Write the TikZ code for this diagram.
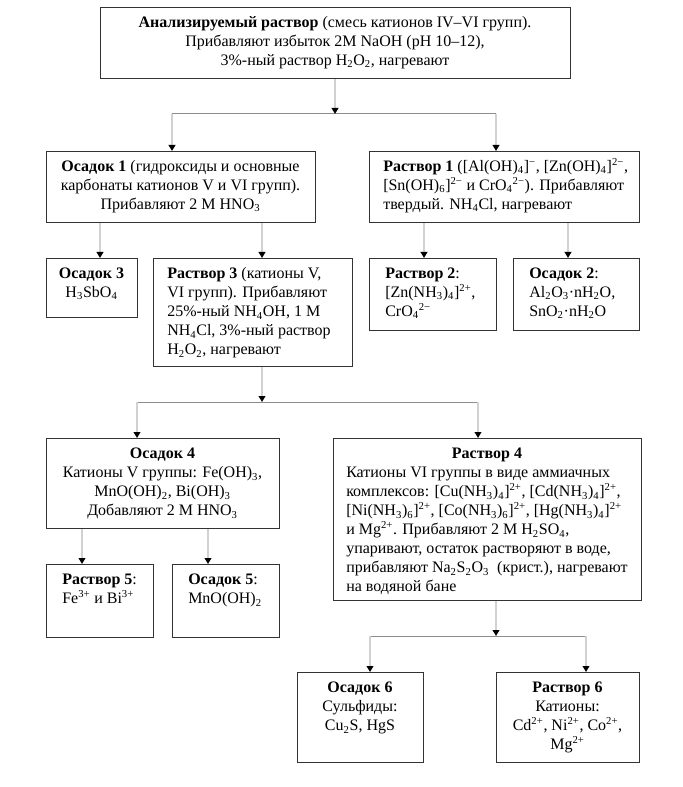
\documentclass[tikz,border=0pt]{standalone}
\usepackage{fontspec}
\setmainfont{Liberation Serif}
\usetikzlibrary{arrows.meta}
\newcommand\fl{\rule{0pt}{10pt}}
\newcommand\sbs[1]{\textsubscript{#1}}
\newcommand\sps[1]{\textsuperscript{#1}}
\newcommand\myfont{\fontsize{12pt}{14.25pt}\selectfont}
\begin{document}
\lineskiplimit=-30pt
\lineskip=0pt
\begin{tikzpicture}[x=0.75pt,y=-0.75pt,
  box/.style={draw=black!80, line width=0.8pt, inner sep=0pt, anchor=north west},
  txtc/.style={inner sep=0pt, anchor=north, align=center, font=\myfont},
  txtl/.style={inner sep=0pt, anchor=north west, align=left, font=\myfont},
  vline/.style={draw=black!18, line width=1.5pt, -{Triangle[color=black, width=5pt, length=4.5pt]}},
  hline/.style={draw=black!45, line width=0.75pt}]
\useasboundingbox[fill=white] (0,0) rectangle (682,787);
\newcommand\mybox[5]{\node[box, minimum width=#4*0.75pt, minimum height=#5*0.75pt] (#1) at (#2,#3) {};}
% boxes
\mybox{top}{100}{7}{470}{71}
\mybox{o1}{46}{151}{269}{71}
\mybox{r1}{369}{151}{270}{71}
\mybox{o3}{46}{258}{91}{59}
\mybox{r3}{153}{258}{199}{108}
\mybox{r2}{369}{258}{127}{72}
\mybox{o2}{513}{258}{126}{72}
\mybox{o4}{46}{438}{233}{90}
\mybox{r4}{333}{438}{308}{162}
\mybox{r5}{46}{564}{107}{73}
\mybox{o5}{172}{564}{107}{73}
\mybox{o6}{297}{672}{126}{90}
\mybox{r6}{496}{672}{143}{90}
% texts
\node[txtc] (ttop) at (335,14) {\fl\textbf{Анализируемый раствор} (смесь катионов IV–VI групп).\\ Прибавляют избыток 2M NaOH (pH 10–12),\\ 3\%-ный раствор H\sbs{2}O\sbs{2}, нагревают};
\node[txtc] (to1) at (180.5,158) {\fl\textbf{Осадок 1} (гидроксиды и основные\\ карбонаты катионов V и VI групп).\\ Прибавляют 2 M HNO\sbs{3}};
\node[txtl] (tr1) at (383,158) {\fl\textbf{Раствор 1} ([Al(OH)\sbs{4}]\sps{−}, [Zn(OH)\sbs{4}]\sps{2−},\\{}[Sn(OH)\sbs{6}]\sps{2−} и CrO\sbs{4}\sps{2−}). Прибавляют\\ твердый. NH\sbs{4}Cl, нагревают};
\node[txtc] (to3) at (91.5,265) {\fl\textbf{Осадок 3}\\ H\sbs{3}SbO\sbs{4}};
\node[txtl] (tr3) at (167,265) {\fl\textbf{Раствор 3} (катионы V,\\ VI групп). Прибавляют\\ 25\%-ный NH\sbs{4}OH, 1 M\\ NH\sbs{4}Cl, 3\%-ный раствор\\ H\sbs{2}O\sbs{2}, нагревают};
\node[txtl] (tr2) at (385,265) {\fl\textbf{Раствор 2}:\\{}[Zn(NH\sbs{3})\sbs{4}]\sps{2+},\\ CrO\sbs{4}\sps{2−}};
\node[txtl] (to2) at (529,265) {\fl\textbf{Осадок 2}:\\ Al\sbs{2}O\sbs{3}·nH\sbs{2}O,\\ SnO\sbs{2}·nH\sbs{2}O};
\node[txtc] (to4) at (162.5,445) {\fl\textbf{Осадок 4}\\ Катионы V группы: Fe(OH)\sbs{3},\\ MnO(OH)\sbs{2}, Bi(OH)\sbs{3}\\ Добавляют 2 M HNO\sbs{3}};
\node[txtc] (tr4h) at (487,445) {\fl\textbf{Раствор 4}};
\node[txtl] (tr4) at (346,464) {\fl Катионы VI группы в виде аммиачных\\ комплексов: [Cu(NH\sbs{3})\sbs{4}]\sps{2+}, [Cd(NH\sbs{3})\sbs{4}]\sps{2+},\\{}[Ni(NH\sbs{3})\sbs{6}]\sps{2+}, [Co(NH\sbs{3})\sbs{6}]\sps{2+}, [Hg(NH\sbs{3})\sbs{4}]\sps{2+}\\ и Mg\sps{2+}. Прибавляют 2 M H\sbs{2}SO\sbs{4},\\ упаривают, остаток растворяют в воде,\\ прибавляют Na\sbs{2}S\sbs{2}O\sbs{3}\ \ (крист.), нагревают\\ на водяной бане};
\node[txtl] (tr5) at (62,571) {\fl\textbf{Раствор 5}:\\ Fe\sps{3+} и Bi\sps{3+}};
\node[txtl] (to5) at (188,571) {\fl\textbf{Осадок 5}:\\ MnO(OH)\sbs{2}};
\node[txtc] (to6) at (360,679) {\fl\textbf{Осадок 6}\\ Сульфиды:\\ Cu\sbs{2}S, HgS};
\node[txtc] (tr6) at (567.5,679) {\fl\textbf{Раствор 6}\\ Катионы:\\ Cd\sps{2+}, Ni\sps{2+}, Co\sps{2+},\\ Mg\sps{2+}};
% junction coordinates
\coordinate (j1) at (335,114); \coordinate (j1l) at (172,114); \coordinate (j1r) at (496,114);
\coordinate (j2) at (262,402); \coordinate (j2l) at (137,402); \coordinate (j2r) at (478,402);
\coordinate (j3) at (496,636); \coordinate (j3l) at (370,636); \coordinate (j3r) at (586,636);
\coordinate (x3) at (100,0); \coordinate (xr3) at (262,0);
\coordinate (xr2) at (424,0); \coordinate (xo2) at (568,0);
\coordinate (xr5) at (82,0); \coordinate (xo5) at (208,0);
% connectors
\draw[hline] (j1l) -- (j1r);
\draw[vline] (top.south -| j1) -- (j1);
\draw[vline] (j1l) -- (j1l |- o1.north);
\draw[vline] (j1r) -- (j1r |- r1.north);
\draw[vline] (o1.south -| x3) -- (o3.north -| x3);
\draw[vline] (o1.south -| xr3) -- (r3.north -| xr3);
\draw[vline] (r1.south -| xr2) -- (r2.north -| xr2);
\draw[vline] (r1.south -| xo2) -- (o2.north -| xo2);
\draw[hline] (j2l) -- (j2r);
\draw[vline] (r3.south -| j2) -- (j2);
\draw[vline] (j2l) -- (j2l |- o4.north);
\draw[vline] (j2r) -- (j2r |- r4.north);
\draw[vline] (o4.south -| xr5) -- (r5.north -| xr5);
\draw[vline] (o4.south -| xo5) -- (o5.north -| xo5);
\draw[hline] (j3l) -- (j3r);
\draw[vline] (r4.south -| j3) -- (j3);
\draw[vline] (j3l) -- (j3l |- o6.north);
\draw[vline] (j3r) -- (j3r |- r6.north);
\end{tikzpicture}
\end{document}
